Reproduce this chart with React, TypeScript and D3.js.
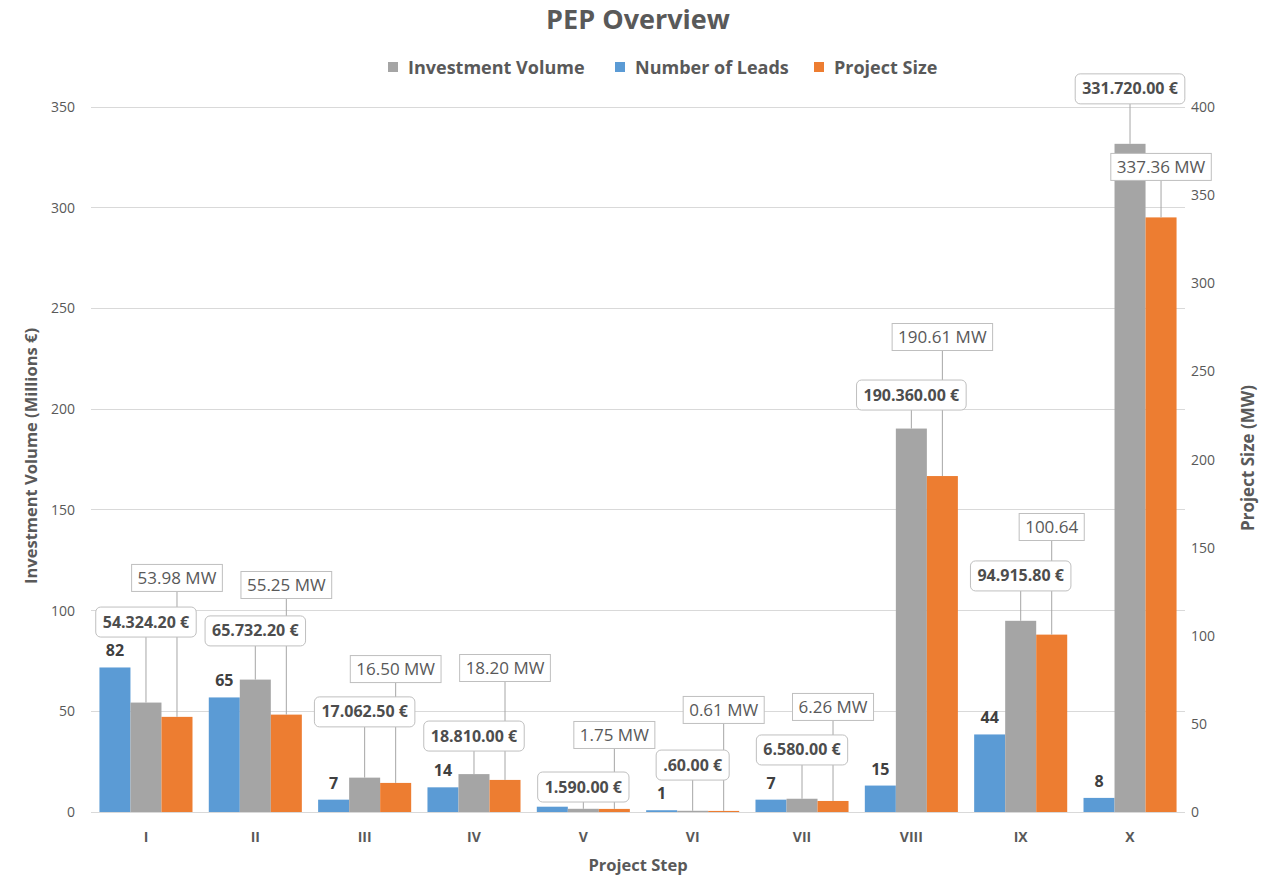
import React, { useEffect, useRef } from "react";
import * as d3 from "d3";

const categories = ["I", "II", "III", "IV", "V", "VI", "VII", "VIII", "IX", "X"];
const investmentVolume = [54.3242, 65.7322, 17.0625, 18.81, 1.59, 0.6, 6.58, 190.36, 94.9158, 331.72];
const numberOfLeads = [82, 65, 7, 14, 3, 1, 7, 15, 44, 8];
const projectSize = [53.98, 55.25, 16.5, 18.2, 1.75, 0.61, 6.26, 190.61, 100.64, 337.36];
const investmentLabels = ["54.324.20 €", "65.732.20 €", "17.062.50 €", "18.810.00 €", "1.590.00 €", ".60.00 €", "6.580.00 €", "190.360.00 €", "94.915.80 €", "331.720.00 €"];
const projectSizeLabels = ["53.98 MW", "55.25 MW", "16.50 MW", "18.20 MW", "1.75 MW", "0.61 MW", "6.26 MW", "190.61 MW", "100.64", "337.36 MW"];
const leftTicks = [0, 50, 100, 150, 200, 250, 300, 350];
const rightTicks = [0, 50, 100, 150, 200, 250, 300, 350, 400];

// label placement (layout): where each label box is centred, in axis units
const investmentLabelAt = [94.3, 89.9, 49.7, 37.7, 12.4, 23.3, 30.8, 207, 117.2, 359];
const projectSizeLabelAt = [132.8, 128.8, 81.1, 81.7, 43.7, 57.9, 59.6, 269.5, 161.7, 366];
// leads label of step V is hidden behind its investment label in the reference
const leadsLabelShown = [true, true, true, true, false, true, true, true, true, true];

const W = 1261;
const H = 878;
const FONT = "'Open Sans', sans-serif";
const TXT = "#595959";

export default function App() {
  const ref = useRef<SVGSVGElement | null>(null);

  useEffect(() => {
    document.body.style.margin = "0";
    const svg = d3.select(ref.current);
    svg.selectAll("*").remove();

    const left = 91.3, right = 1184.7, top = 107, bottom = 812;
    const x0 = d3.scaleBand<string>().domain(categories).range([left, right]).paddingInner(0.149).paddingOuter(0.0745);
    const x1 = d3.scaleBand<string>().domain(["leads", "inv", "ps"]).range([0, x0.bandwidth()]);
    const yL = d3.scaleLinear().domain([0, 350]).range([bottom, top]);
    const yR = d3.scaleLinear().domain([0, 400]).range([bottom, top]);

    svg.append("rect").attr("width", W).attr("height", H).attr("fill", "#fff");

    // title
    svg.append("text").attr("x", 638).attr("y", 29).attr("text-anchor", "middle")
      .attr("font-family", FONT).attr("font-weight", 700).attr("font-size", 27).attr("fill", TXT).text("PEP Overview");

    // legend
    const legend = [
      { name: "Investment Volume", color: "#A5A5A5", x: 388 },
      { name: "Number of Leads", color: "#5B9BD5", x: 615 },
      { name: "Project Size", color: "#ED7D31", x: 814 },
    ];
    legend.forEach((l) => {
      svg.append("rect").attr("x", l.x).attr("y", 62).attr("width", 10).attr("height", 10).attr("fill", l.color);
      svg.append("text").attr("x", l.x + 20).attr("y", 73.5).attr("font-family", FONT).attr("font-weight", 700)
        .attr("font-size", 18).attr("fill", TXT).text(l.name);
    });

    // gridlines
    leftTicks.forEach((t) => {
      svg.append("line").attr("x1", left).attr("x2", right).attr("y1", yL(t)).attr("y2", yL(t))
        .attr("stroke", "#D9D9D9").attr("stroke-width", 1).attr("shape-rendering", "crispEdges");
      svg.append("text").attr("x", 75).attr("y", yL(t) + 5).attr("text-anchor", "end")
        .attr("font-family", FONT).attr("font-size", 14).attr("fill", TXT).text(t);
    });
    rightTicks.forEach((t) => {
      svg.append("text").attr("x", 1191).attr("y", yR(t) + 5).attr("text-anchor", "start")
        .attr("font-family", FONT).attr("font-size", 14).attr("fill", TXT).text(t);
    });

    // axis titles
    svg.append("text").attr("transform", `translate(37,456) rotate(-90)`).attr("text-anchor", "middle")
      .attr("font-family", FONT).attr("font-weight", 700).attr("font-size", 16.5).attr("fill", TXT).text("Investment Volume (Millions €)");
    svg.append("text").attr("transform", `translate(1254,458) rotate(-90)`).attr("text-anchor", "middle")
      .attr("font-family", FONT).attr("font-weight", 700).attr("font-size", 17).attr("fill", TXT).text("Project Size (MW)");
    svg.append("text").attr("x", (left + right) / 2).attr("y", 871).attr("text-anchor", "middle")
      .attr("font-family", FONT).attr("font-weight", 700).attr("font-size", 16.5).attr("fill", TXT).text("Project Step");

    // category labels
    categories.forEach((c) => {
      svg.append("text").attr("x", x0(c)! + x0.bandwidth() / 2).attr("y", 842).attr("text-anchor", "middle")
        .attr("font-family", FONT).attr("font-weight", 700).attr("font-size", 14).attr("fill", TXT).text(c);
    });

    // bars
    const gBars = svg.append("g");
    categories.forEach((c, i) => {
      const bx = x0(c)!;
      gBars.append("rect").attr("x", bx + x1("leads")!).attr("width", x1.bandwidth())
        .attr("y", yR(numberOfLeads[i])).attr("height", bottom - yR(numberOfLeads[i])).attr("fill", "#5B9BD5");
      gBars.append("rect").attr("x", bx + x1("inv")!).attr("width", x1.bandwidth())
        .attr("y", yL(investmentVolume[i])).attr("height", bottom - yL(investmentVolume[i])).attr("fill", "#A5A5A5");
      gBars.append("rect").attr("x", bx + x1("ps")!).attr("width", x1.bandwidth())
        .attr("y", yR(projectSize[i])).attr("height", bottom - yR(projectSize[i])).attr("fill", "#ED7D31");
    });

    // axis line
    svg.append("line").attr("x1", left).attr("x2", right).attr("y1", bottom).attr("y2", bottom)
      .attr("stroke", "#D9D9D9").attr("shape-rendering", "crispEdges");

    // leads labels
    categories.forEach((c, i) => {
      if (!leadsLabelShown[i]) return;
      const cx = x0(c)! + x1("leads")! + x1.bandwidth() / 2;
      svg.append("text").attr("x", cx).attr("y", yR(numberOfLeads[i]) - 11).attr("text-anchor", "middle")
        .attr("font-family", FONT).attr("font-weight", 700).attr("font-size", 16).attr("fill", "#404040").text(numberOfLeads[i]);
    });

    // leader lines and label boxes
    const gLines = svg.append("g");
    const gInv = svg.append("g");
    const gPs = svg.append("g");

    categories.forEach((c, i) => {
      const cxI = x0(c)! + x1("inv")! + x1.bandwidth() / 2;
      const cyI = yL(investmentLabelAt[i]);
      const t = gInv.append("text").attr("x", cxI).attr("y", cyI + 5.5).attr("text-anchor", "middle")
        .attr("font-family", FONT).attr("font-weight", 700).attr("font-size", 16).attr("fill", "#4d4d4d").text(investmentLabels[i]);
      const tw = (t.node() as SVGTextElement).getComputedTextLength();
      const bw = tw + 14, bh = 30;
      gInv.insert("rect", () => t.node() as any).attr("x", cxI - bw / 2).attr("y", cyI - bh / 2).attr("width", bw).attr("height", bh)
        .attr("rx", 5).attr("fill", "#fff").attr("stroke", "#BFBFBF").attr("stroke-width", 1);
      gLines.append("line").attr("x1", cxI).attr("x2", cxI).attr("y1", cyI + bh / 2).attr("y2", yL(investmentVolume[i]))
        .attr("stroke", "#A6A6A6").attr("stroke-width", 1);

      const cxP = x0(c)! + x1("ps")! + x1.bandwidth() / 2;
      const cyP = yR(projectSizeLabelAt[i]);
      const tp = gPs.append("text").attr("x", cxP).attr("y", cyP + 6).attr("text-anchor", "middle")
        .attr("font-family", FONT).attr("font-size", 17).attr("fill", TXT).text(projectSizeLabels[i]);
      const tpw = (tp.node() as SVGTextElement).getComputedTextLength();
      const pw = tpw + 12, ph = 27;
      gPs.insert("rect", () => tp.node() as any).attr("x", cxP - pw / 2).attr("y", cyP - ph / 2).attr("width", pw).attr("height", ph)
        .attr("fill", "#fff").attr("stroke", "#BFBFBF").attr("stroke-width", 1);
      gLines.append("line").attr("x1", cxP).attr("x2", cxP).attr("y1", cyP + ph / 2).attr("y2", yR(projectSize[i]))
        .attr("stroke", "#A6A6A6").attr("stroke-width", 1);
    });
  }, []);

  return <svg ref={ref} width={W} height={H} style={{ position: "absolute", left: 0, top: 0, display: "block" }} />;
}
